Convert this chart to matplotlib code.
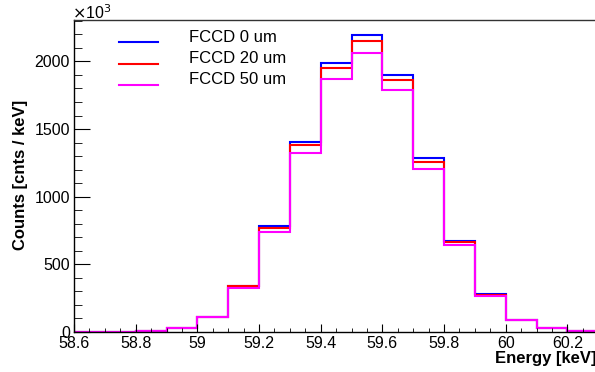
import numpy as np
import matplotlib.pyplot as plt
from matplotlib.lines import Line2D
from matplotlib.ticker import MultipleLocator

plt.rcParams['font.family'] = ['Liberation Sans', 'DejaVu Sans']

# energy bin edges [keV], 0.1 keV wide
edges = np.round(np.arange(58.6, 60.41, 0.1), 2)

# counts per bin in units of 10^3 cnts/keV
fccd_0 = [0, 2, 5, 30, 113, 340, 780, 1404, 1990, 2197, 1897, 1284, 674, 278, 91, 27, 6, 0]
fccd_20 = [0, 2, 5, 30, 112, 337, 765, 1380, 1948, 2150, 1860, 1257, 662, 276, 89, 27, 6, 0]
fccd_50 = [0, 2, 5, 30, 110, 322, 738, 1323, 1872, 2064, 1786, 1205, 640, 268, 87, 26, 6, 0]

labels = ["FCCD 0 um", "FCCD 20 um", "FCCD 50 um"]
colors = ["#0000ff", "#ff0000", "#ff00ff"]

W, H = 595, 372
fig = plt.figure(figsize=(W / 100, H / 100), dpi=100)
# frame runs past the right edge of the canvas
ax = fig.add_axes([74 / W, 40 / H, 555 / W, 312 / H])

for vals, lab, col in zip([fccd_0, fccd_20, fccd_50], labels, colors):
    ax.stairs(vals, edges, color=col, lw=1.5, label=lab)

ax.set_xlim(58.6, 60.4)
ax.set_ylim(0, 2306)

ax.xaxis.set_minor_locator(MultipleLocator(0.05))
ax.yaxis.set_major_locator(MultipleLocator(500))
ax.yaxis.set_minor_locator(MultipleLocator(100))
ax.set_xticks(np.round(np.arange(58.6, 60.3, 0.2), 1))
ax.set_xticklabels(["58.6", "58.8", "59", "59.2", "59.4", "59.6", "59.8", "60", "60.2"])

ax.tick_params(axis='both', which='both', direction='in', labelsize=11.5)
ax.tick_params(axis='x', which='major', length=6, pad=3)
ax.tick_params(axis='x', which='minor', length=3)
ax.tick_params(axis='y', which='major', length=11.5, pad=3)
ax.tick_params(axis='y', which='minor', length=6)
ax.spines['right'].set_visible(False)
for sp in ax.spines.values():
    sp.set_linewidth(1.0)
ax.spines['top'].set_color('#333333')

fig.text(21 / W, 1 - 175 / H, "Counts [cnts / keV]", fontsize=12, fontweight='bold',
         rotation=90, ha='center', va='center')
fig.text(495 / W, 6 / H, "Energy [keV]", fontsize=12, fontweight='bold',
         ha='left', va='bottom')
fig.text(72 / W, 1 - 13 / H, r"$\times$10$^{3}$", fontsize=11.5, ha='left', va='center')

# legend: short line sample with the label to its right
for i, (lab, col) in enumerate(zip(labels, colors)):
    y_line = 1 - (42 + 21.5 * i) / H
    y_text = 1 - (38 + 20.5 * i) / H
    fig.add_artist(Line2D([119 / W, 158 / W], [y_line, y_line], color=col, lw=1.5))
    fig.text(189 / W, y_text, lab, fontsize=12, ha='left', va='center')

fig.savefig("out.png", dpi=100)
